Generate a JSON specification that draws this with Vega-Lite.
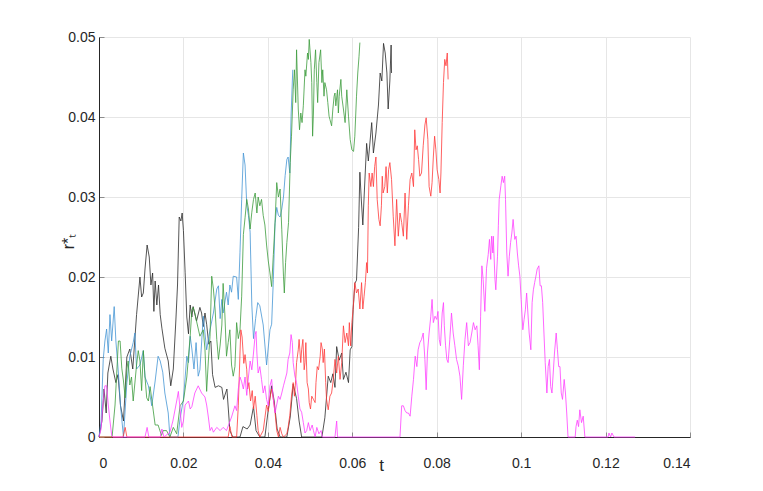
{
"$schema": "https://vega.github.io/schema/vega-lite/v6.json",
"width": 591, "height": 400,
"autosize": {"type": "none"},
"padding": {"left": 99, "top": 37, "right": 73, "bottom": 54},
"background": "white",
"config": {
  "view": {"stroke": null},
  "axis": {"domainColor": "#262626", "domainWidth": 1, "tickColor": "#8c8c8c", "tickSize": -5, "gridColor": "#e6e6e6", "gridWidth": 1,
    "labelFont": "Liberation Sans", "labelFontSize": 14, "labelColor": "#262626",
    "titleFont": "Liberation Sans", "titleFontWeight": "normal", "titleColor": "#262626"}
},
"datasets": {
"black": [{"t":0,"v":0},{"t":0.0007,"v":0.002},{"t":0.0012,"v":0.006},{"t":0.0017,"v":0.003},{"t":0.0021,"v":0.008},{"t":0.0028,"v":0.0101},{"t":0.0033,"v":0.0085},{"t":0.004,"v":0.0068},{"t":0.0045,"v":0.0078},{"t":0.0051,"v":0.0039},{"t":0.0058,"v":0.002},{"t":0.0066,"v":0.010},{"t":0.0073,"v":0.011},{"t":0.008,"v":0.0085},{"t":0.0089,"v":0.0153},{"t":0.0097,"v":0.020},{"t":0.0101,"v":0.0175},{"t":0.0105,"v":0.018},{"t":0.0109,"v":0.021},{"t":0.0114,"v":0.024},{"t":0.0119,"v":0.0225},{"t":0.0123,"v":0.019},{"t":0.0127,"v":0.0205},{"t":0.013,"v":0.0157},{"t":0.0133,"v":0.0195},{"t":0.0137,"v":0.0165},{"t":0.0141,"v":0.019},{"t":0.0145,"v":0.0153},{"t":0.0149,"v":0.0136},{"t":0.0156,"v":0.0111},{"t":0.0164,"v":0.0095},{"t":0.017,"v":0.0064},{"t":0.0176,"v":0.0085},{"t":0.0182,"v":0.0145},{"t":0.0186,"v":0.019},{"t":0.019,"v":0.0275},{"t":0.0194,"v":0.027},{"t":0.0197,"v":0.028},{"t":0.02,"v":0.0258},{"t":0.0204,"v":0.0206},{"t":0.0208,"v":0.015},{"t":0.0212,"v":0.0129},{"t":0.0216,"v":0.0165},{"t":0.022,"v":0.015},{"t":0.0223,"v":0.0163},{"t":0.0231,"v":0.0145},{"t":0.0239,"v":0.0162},{"t":0.0243,"v":0.0155},{"t":0.0247,"v":0.0138},{"t":0.0251,"v":0.0155},{"t":0.0255,"v":0.0141},{"t":0.026,"v":0.0116},{"t":0.0265,"v":0.012},{"t":0.0269,"v":0.0078},{"t":0.0275,"v":0.0062},{"t":0.0283,"v":0.0064},{"t":0.0291,"v":0.0062},{"t":0.0295,"v":0.0047},{"t":0.0303,"v":0.006},{"t":0.031,"v":0.0008},{"t":0.0317,"v":0},{"t":0.0334,"v":0},{"t":0.0341,"v":0.0013},{"t":0.0351,"v":0.001},{"t":0.0358,"v":0.0015},{"t":0.0366,"v":0.0038},{"t":0.0372,"v":0.0008},{"t":0.0381,"v":0},{"t":0.0393,"v":0},{"t":0.04,"v":0.003},{"t":0.0409,"v":0.0064},{"t":0.0415,"v":0.0045},{"t":0.0422,"v":0.001},{"t":0.0429,"v":0},{"t":0.0445,"v":0},{"t":0.0453,"v":0.0025},{"t":0.046,"v":0.0066},{"t":0.0468,"v":0.0048},{"t":0.0474,"v":0.002},{"t":0.048,"v":0},{"t":0.0528,"v":0},{"t":0.0535,"v":0.0024},{"t":0.0543,"v":0.0076},{"t":0.0549,"v":0.0068},{"t":0.0554,"v":0.0079},{"t":0.0559,"v":0.0062},{"t":0.0563,"v":0.0113},{"t":0.0569,"v":0.0096},{"t":0.0575,"v":0.0105},{"t":0.0579,"v":0.0072},{"t":0.0585,"v":0.0081},{"t":0.0591,"v":0.0068},{"t":0.0595,"v":0.0109},{"t":0.0599,"v":0.0113},{"t":0.0602,"v":0.0159},{"t":0.0606,"v":0.0192},{"t":0.061,"v":0.0196},{"t":0.0615,"v":0.0262},{"t":0.0618,"v":0.0331},{"t":0.0621,"v":0.030},{"t":0.0625,"v":0.0265},{"t":0.0628,"v":0.030},{"t":0.0634,"v":0.0367},{"t":0.0638,"v":0.0345},{"t":0.0646,"v":0.0393},{"t":0.065,"v":0.0355},{"t":0.0656,"v":0.038},{"t":0.0662,"v":0.0415},{"t":0.0666,"v":0.0455},{"t":0.067,"v":0.0445},{"t":0.0674,"v":0.0492},{"t":0.0678,"v":0.048},{"t":0.0682,"v":0.0455},{"t":0.0685,"v":0.041},{"t":0.0689,"v":0.0445},{"t":0.0692,"v":0.049},{"t":0.0693,"v":0.0455}],
"blue": [{"t":0,"v":0},{"t":0.0005,"v":0.002},{"t":0.001,"v":0.0097},{"t":0.0014,"v":0.012},{"t":0.0018,"v":0.0135},{"t":0.0022,"v":0.0105},{"t":0.0026,"v":0.0153},{"t":0.003,"v":0.012},{"t":0.0036,"v":0.0163},{"t":0.004,"v":0.012},{"t":0.0046,"v":0.008},{"t":0.0051,"v":0.0039},{"t":0.0058,"v":0},{"t":0.0066,"v":0.0068},{"t":0.0073,"v":0.0101},{"t":0.0081,"v":0.0118},{"t":0.0085,"v":0.013},{"t":0.0089,"v":0.0085},{"t":0.0097,"v":0.009},{"t":0.0105,"v":0.0108},{"t":0.0109,"v":0.0075},{"t":0.0117,"v":0.0064},{"t":0.0125,"v":0.0039},{"t":0.0133,"v":0.007},{"t":0.014,"v":0.0101},{"t":0.0145,"v":0.0095},{"t":0.0151,"v":0.0081},{"t":0.0156,"v":0.0055},{"t":0.0164,"v":0.003},{"t":0.0168,"v":0},{"t":0.0187,"v":0},{"t":0.0192,"v":0.0023},{"t":0.02,"v":0.0047},{"t":0.0208,"v":0.0101},{"t":0.0212,"v":0.0093},{"t":0.0216,"v":0.0126},{"t":0.022,"v":0.011},{"t":0.0225,"v":0.0085},{"t":0.023,"v":0.0118},{"t":0.0235,"v":0.0076},{"t":0.0239,"v":0.0084},{"t":0.0247,"v":0.0151},{"t":0.0255,"v":0.0109},{"t":0.0263,"v":0.0134},{"t":0.0271,"v":0.0155},{"t":0.0279,"v":0.0185},{"t":0.0283,"v":0.0189},{"t":0.0287,"v":0.0148},{"t":0.0291,"v":0.0172},{"t":0.0294,"v":0.0155},{"t":0.0302,"v":0.0181},{"t":0.0306,"v":0.0165},{"t":0.031,"v":0.019},{"t":0.0314,"v":0.0181},{"t":0.0318,"v":0.0201},{"t":0.0326,"v":0.02},{"t":0.033,"v":0.0172},{"t":0.0334,"v":0.0231},{"t":0.0338,"v":0.0297},{"t":0.0342,"v":0.0355},{"t":0.0346,"v":0.034},{"t":0.035,"v":0.029},{"t":0.0354,"v":0.0277},{"t":0.0358,"v":0.0256},{"t":0.0362,"v":0.0165},{"t":0.0366,"v":0.0123},{"t":0.0371,"v":0.0148},{"t":0.0376,"v":0.0168},{"t":0.0381,"v":0.0164},{"t":0.0389,"v":0.014},{"t":0.0397,"v":0.009},{"t":0.0405,"v":0.0134},{"t":0.0409,"v":0.0141},{"t":0.0413,"v":0.0197},{"t":0.0417,"v":0.0267},{"t":0.0421,"v":0.0287},{"t":0.0425,"v":0.0277},{"t":0.0429,"v":0.0275},{"t":0.0433,"v":0.0285},{"t":0.0437,"v":0.03},{"t":0.0441,"v":0.0327},{"t":0.0445,"v":0.0347},{"t":0.0448,"v":0.035},{"t":0.0452,"v":0.033},{"t":0.0455,"v":0.0401},{"t":0.0457,"v":0.043},{"t":0.0459,"v":0.0459}],
"green": [{"t":0,"v":0},{"t":0.0031,"v":0},{"t":0.0038,"v":0.004},{"t":0.0046,"v":0.012},{"t":0.005,"v":0.012},{"t":0.0054,"v":0.0086},{"t":0.0058,"v":0.007},{"t":0.0062,"v":0.0049},{"t":0.0066,"v":0.0085},{"t":0.0069,"v":0.0095},{"t":0.0073,"v":0.0065},{"t":0.0077,"v":0.0075},{"t":0.0081,"v":0.0045},{"t":0.0089,"v":0.009},{"t":0.0093,"v":0.0108},{"t":0.0097,"v":0.0095},{"t":0.0101,"v":0.0058},{"t":0.0105,"v":0.0108},{"t":0.0109,"v":0.0075},{"t":0.0113,"v":0.0049},{"t":0.0117,"v":0.0045},{"t":0.0121,"v":0.0063},{"t":0.0127,"v":0.0039},{"t":0.0133,"v":0.0015},{"t":0.014,"v":0.0015},{"t":0.0148,"v":0.0002},{"t":0.0152,"v":0.0008},{"t":0.016,"v":0.0008},{"t":0.0168,"v":0},{"t":0.0176,"v":0.0012},{"t":0.0184,"v":0.0004},{"t":0.0192,"v":0.0039},{"t":0.02,"v":0.0045},{"t":0.0208,"v":0.0075},{"t":0.0216,"v":0.0126},{"t":0.022,"v":0.0159},{"t":0.0223,"v":0.0162},{"t":0.0227,"v":0.0155},{"t":0.0231,"v":0.0145},{"t":0.0239,"v":0.0126},{"t":0.0247,"v":0.0134},{"t":0.0251,"v":0.011},{"t":0.0255,"v":0.0057},{"t":0.0259,"v":0.0095},{"t":0.0263,"v":0.0126},{"t":0.0267,"v":0.0201},{"t":0.0271,"v":0.0185},{"t":0.0275,"v":0.016},{"t":0.0279,"v":0.0122},{"t":0.0283,"v":0.0097},{"t":0.0287,"v":0.0115},{"t":0.0291,"v":0.014},{"t":0.0294,"v":0.0192},{"t":0.0298,"v":0.0155},{"t":0.0302,"v":0.0101},{"t":0.0306,"v":0.0118},{"t":0.031,"v":0.0134},{"t":0.0314,"v":0.009},{"t":0.0318,"v":0.0076},{"t":0.0322,"v":0.0088},{"t":0.0326,"v":0.0143},{"t":0.033,"v":0.0123},{"t":0.0334,"v":0.0134},{"t":0.0338,"v":0.0176},{"t":0.0342,"v":0.0253},{"t":0.0346,"v":0.0274},{"t":0.035,"v":0.0297},{"t":0.0354,"v":0.0285},{"t":0.0358,"v":0.026},{"t":0.0362,"v":0.0281},{"t":0.0366,"v":0.0297},{"t":0.037,"v":0.0305},{"t":0.0374,"v":0.028},{"t":0.0377,"v":0.03},{"t":0.0381,"v":0.0289},{"t":0.0385,"v":0.0297},{"t":0.0389,"v":0.0277},{"t":0.0393,"v":0.0265},{"t":0.0397,"v":0.024},{"t":0.0401,"v":0.022},{"t":0.0405,"v":0.0205},{"t":0.0409,"v":0.0188},{"t":0.0413,"v":0.0228},{"t":0.0417,"v":0.0268},{"t":0.0421,"v":0.0318},{"t":0.0425,"v":0.03},{"t":0.0429,"v":0.031},{"t":0.0433,"v":0.0259},{"t":0.0437,"v":0.0201},{"t":0.0439,"v":0.018},{"t":0.0442,"v":0.0218},{"t":0.0445,"v":0.0243},{"t":0.0449,"v":0.0268},{"t":0.0453,"v":0.0343},{"t":0.0456,"v":0.0376},{"t":0.046,"v":0.0434},{"t":0.0463,"v":0.0459},{"t":0.0466,"v":0.0418},{"t":0.0468,"v":0.0484},{"t":0.0472,"v":0.041},{"t":0.0475,"v":0.0384},{"t":0.0478,"v":0.0405},{"t":0.0481,"v":0.0393},{"t":0.0484,"v":0.0414},{"t":0.0488,"v":0.0459},{"t":0.049,"v":0.0451},{"t":0.0494,"v":0.048},{"t":0.0496,"v":0.0472},{"t":0.0498,"v":0.0497},{"t":0.0502,"v":0.0468},{"t":0.0504,"v":0.0443},{"t":0.0506,"v":0.0376},{"t":0.0508,"v":0.0405},{"t":0.051,"v":0.0459},{"t":0.0513,"v":0.0484},{"t":0.0516,"v":0.0443},{"t":0.0518,"v":0.0418},{"t":0.0521,"v":0.0468},{"t":0.0525,"v":0.0484},{"t":0.0528,"v":0.0443},{"t":0.053,"v":0.0459},{"t":0.0533,"v":0.0426},{"t":0.0535,"v":0.0443},{"t":0.0539,"v":0.0434},{"t":0.0542,"v":0.0418},{"t":0.0545,"v":0.0401},{"t":0.0547,"v":0.0397},{"t":0.0551,"v":0.0389},{"t":0.0554,"v":0.041},{"t":0.0557,"v":0.0426},{"t":0.0559,"v":0.043},{"t":0.0561,"v":0.0414},{"t":0.0565,"v":0.0434},{"t":0.0567,"v":0.0405},{"t":0.0569,"v":0.0426},{"t":0.0573,"v":0.0447},{"t":0.0575,"v":0.0426},{"t":0.0579,"v":0.041},{"t":0.0583,"v":0.0393},{"t":0.0587,"v":0.0434},{"t":0.0591,"v":0.0401},{"t":0.0595,"v":0.0372},{"t":0.0599,"v":0.0359},{"t":0.0603,"v":0.0357},{"t":0.0606,"v":0.0376},{"t":0.061,"v":0.0426},{"t":0.0613,"v":0.0455},{"t":0.0616,"v":0.0476},{"t":0.0618,"v":0.0493}],
"red": [{"t":0,"v":0},{"t":0.0057,"v":0},{"t":0.0062,"v":0.0012},{"t":0.0066,"v":0},{"t":0.0306,"v":0},{"t":0.031,"v":0.0013},{"t":0.0315,"v":0},{"t":0.0326,"v":0},{"t":0.033,"v":0.0039},{"t":0.0334,"v":0.0105},{"t":0.0336,"v":0.0134},{"t":0.0339,"v":0.0125},{"t":0.0343,"v":0.0092},{"t":0.0346,"v":0.0103},{"t":0.035,"v":0.0084},{"t":0.0352,"v":0.006},{"t":0.0355,"v":0.0068},{"t":0.0359,"v":0.0045},{"t":0.0363,"v":0.0058},{"t":0.0366,"v":0.0035},{"t":0.037,"v":0.0051},{"t":0.0374,"v":0.0027},{"t":0.0377,"v":0.0008},{"t":0.0381,"v":0},{"t":0.0389,"v":0.0008},{"t":0.0393,"v":0.0024},{"t":0.0397,"v":0.004},{"t":0.0401,"v":0.0032},{"t":0.0405,"v":0.0049},{"t":0.0409,"v":0.006},{"t":0.0413,"v":0.0047},{"t":0.0417,"v":0.0031},{"t":0.0421,"v":0.0008},{"t":0.0425,"v":0},{"t":0.0429,"v":0.0012},{"t":0.0433,"v":0.0004},{"t":0.0437,"v":0},{"t":0.0445,"v":0.0004},{"t":0.0448,"v":0.0012},{"t":0.0452,"v":0.0027},{"t":0.0456,"v":0.0051},{"t":0.046,"v":0.0068},{"t":0.0463,"v":0.0051},{"t":0.0466,"v":0.0072},{"t":0.0468,"v":0.0093},{"t":0.0472,"v":0.0109},{"t":0.0474,"v":0.0122},{"t":0.0478,"v":0.0093},{"t":0.048,"v":0.0109},{"t":0.0483,"v":0.0122},{"t":0.0486,"v":0.0084},{"t":0.0488,"v":0.0093},{"t":0.049,"v":0.0118},{"t":0.0493,"v":0.0068},{"t":0.0496,"v":0.006},{"t":0.0498,"v":0.0043},{"t":0.0501,"v":0.0035},{"t":0.0504,"v":0.0051},{"t":0.0508,"v":0.0047},{"t":0.0512,"v":0.0043},{"t":0.0514,"v":0.0068},{"t":0.0517,"v":0.0088},{"t":0.052,"v":0.0084},{"t":0.0524,"v":0.0101},{"t":0.0526,"v":0.0118},{"t":0.0529,"v":0.011},{"t":0.0531,"v":0.0093},{"t":0.0534,"v":0.011},{"t":0.0537,"v":0.0068},{"t":0.0539,"v":0.0047},{"t":0.0543,"v":0.0034},{"t":0.0547,"v":0.0051},{"t":0.0551,"v":0.0055},{"t":0.0555,"v":0.0072},{"t":0.0559,"v":0.0097},{"t":0.0563,"v":0.008},{"t":0.0567,"v":0.0101},{"t":0.0571,"v":0.0072},{"t":0.0575,"v":0.0093},{"t":0.0579,"v":0.0139},{"t":0.0583,"v":0.0118},{"t":0.0587,"v":0.013},{"t":0.0591,"v":0.0114},{"t":0.0593,"v":0.0143},{"t":0.0596,"v":0.0114},{"t":0.0599,"v":0.0143},{"t":0.0602,"v":0.016},{"t":0.0606,"v":0.0193},{"t":0.061,"v":0.018},{"t":0.0614,"v":0.0185},{"t":0.0618,"v":0.016},{"t":0.0622,"v":0.0193},{"t":0.0625,"v":0.016},{"t":0.0628,"v":0.0176},{"t":0.0631,"v":0.0193},{"t":0.0634,"v":0.0218},{"t":0.0636,"v":0.0205},{"t":0.0638,"v":0.0289},{"t":0.064,"v":0.033},{"t":0.0644,"v":0.0313},{"t":0.0647,"v":0.033},{"t":0.065,"v":0.0313},{"t":0.0653,"v":0.0338},{"t":0.0656,"v":0.035},{"t":0.0659,"v":0.0297},{"t":0.0663,"v":0.0272},{"t":0.0666,"v":0.0264},{"t":0.0669,"v":0.0289},{"t":0.0671,"v":0.0326},{"t":0.0673,"v":0.0305},{"t":0.0677,"v":0.0313},{"t":0.068,"v":0.0338},{"t":0.0683,"v":0.0305},{"t":0.0686,"v":0.0334},{"t":0.0689,"v":0.0343},{"t":0.0693,"v":0.0322},{"t":0.0697,"v":0.0276},{"t":0.0701,"v":0.0239},{"t":0.0705,"v":0.0297},{"t":0.0709,"v":0.0251},{"t":0.0713,"v":0.028},{"t":0.0717,"v":0.0268},{"t":0.0721,"v":0.0251},{"t":0.0725,"v":0.0305},{"t":0.0729,"v":0.0247},{"t":0.0733,"v":0.0289},{"t":0.0737,"v":0.0322},{"t":0.0741,"v":0.033},{"t":0.0745,"v":0.0313},{"t":0.0748,"v":0.0384},{"t":0.0751,"v":0.0359},{"t":0.0754,"v":0.0364},{"t":0.0757,"v":0.0347},{"t":0.076,"v":0.0326},{"t":0.0764,"v":0.033},{"t":0.0768,"v":0.0364},{"t":0.0772,"v":0.039},{"t":0.0775,"v":0.0399},{"t":0.0779,"v":0.0372},{"t":0.0782,"v":0.0313},{"t":0.0786,"v":0.0301},{"t":0.0789,"v":0.0318},{"t":0.0792,"v":0.035},{"t":0.0795,"v":0.0376},{"t":0.0798,"v":0.0359},{"t":0.0801,"v":0.0334},{"t":0.0805,"v":0.0322},{"t":0.0808,"v":0.0305},{"t":0.081,"v":0.033},{"t":0.0813,"v":0.0393},{"t":0.0816,"v":0.0443},{"t":0.0819,"v":0.0472},{"t":0.0822,"v":0.0464},{"t":0.0825,"v":0.048},{"t":0.0827,"v":0.0447}],
"magenta": [{"t":0,"v":0},{"t":0.0005,"v":0.001},{"t":0.0009,"v":0.004},{"t":0.0014,"v":0.0064},{"t":0.0018,"v":0.0064},{"t":0.0022,"v":0.004},{"t":0.0026,"v":0.002},{"t":0.003,"v":0.0002},{"t":0.0033,"v":0},{"t":0.0109,"v":0},{"t":0.0114,"v":0.0012},{"t":0.0118,"v":0},{"t":0.0145,"v":0},{"t":0.0149,"v":0.001},{"t":0.0154,"v":0},{"t":0.0168,"v":0.0006},{"t":0.0175,"v":0.002},{"t":0.0184,"v":0.0045},{"t":0.0188,"v":0.0057},{"t":0.0192,"v":0.0035},{"t":0.0196,"v":0.0012},{"t":0.02,"v":0.002},{"t":0.0204,"v":0.004},{"t":0.0212,"v":0.0045},{"t":0.0216,"v":0.0035},{"t":0.022,"v":0.0038},{"t":0.0227,"v":0.0055},{"t":0.0235,"v":0.0064},{"t":0.0243,"v":0.0055},{"t":0.0251,"v":0.005},{"t":0.0255,"v":0.004},{"t":0.0259,"v":0.0025},{"t":0.0263,"v":0.0008},{"t":0.0267,"v":0.0012},{"t":0.0271,"v":0.0006},{"t":0.0279,"v":0.0012},{"t":0.0287,"v":0.0008},{"t":0.0294,"v":0.0012},{"t":0.0302,"v":0.0008},{"t":0.0314,"v":0.0025},{"t":0.0322,"v":0.0039},{"t":0.0326,"v":0.0033},{"t":0.033,"v":0.006},{"t":0.0334,"v":0.0075},{"t":0.0338,"v":0.0069},{"t":0.0342,"v":0.006},{"t":0.0346,"v":0.0075},{"t":0.035,"v":0.0052},{"t":0.0354,"v":0.0075},{"t":0.0358,"v":0.0095},{"t":0.0362,"v":0.0084},{"t":0.0366,"v":0.0105},{"t":0.037,"v":0.0128},{"t":0.0372,"v":0.0132},{"t":0.0374,"v":0.0105},{"t":0.0377,"v":0.008},{"t":0.0381,"v":0.0088},{"t":0.0385,"v":0.0072},{"t":0.0389,"v":0.0055},{"t":0.0393,"v":0.0064},{"t":0.0397,"v":0.0047},{"t":0.0401,"v":0.0039},{"t":0.0405,"v":0.0064},{"t":0.0409,"v":0.0072},{"t":0.0413,"v":0.0047},{"t":0.0417,"v":0.003},{"t":0.0425,"v":0.0051},{"t":0.0429,"v":0.0047},{"t":0.0433,"v":0.0055},{"t":0.0437,"v":0.0064},{"t":0.0441,"v":0.0072},{"t":0.0445,"v":0.008},{"t":0.0448,"v":0.0097},{"t":0.0452,"v":0.0105},{"t":0.0455,"v":0.0128},{"t":0.0458,"v":0.0118},{"t":0.046,"v":0.0093},{"t":0.0464,"v":0.0076},{"t":0.0468,"v":0.0068},{"t":0.0472,"v":0.0051},{"t":0.0476,"v":0.0035},{"t":0.048,"v":0.0031},{"t":0.0484,"v":0.0018},{"t":0.0488,"v":0.0005},{"t":0.0492,"v":0.0008},{"t":0.0496,"v":0.0018},{"t":0.05,"v":0.0008},{"t":0.0505,"v":0.0015},{"t":0.0508,"v":0.0008},{"t":0.0512,"v":0},{"t":0.0516,"v":0.0012},{"t":0.0521,"v":0.0004},{"t":0.0526,"v":0.0008},{"t":0.0529,"v":0},{"t":0.0559,"v":0},{"t":0.0563,"v":0.002},{"t":0.0565,"v":0},{"t":0.0713,"v":0},{"t":0.0717,"v":0.0039},{"t":0.0721,"v":0.0039},{"t":0.0725,"v":0.0033},{"t":0.0729,"v":0.003},{"t":0.0733,"v":0.003},{"t":0.0737,"v":0.0026},{"t":0.0741,"v":0.0051},{"t":0.0745,"v":0.0072},{"t":0.0749,"v":0.0101},{"t":0.0753,"v":0.0088},{"t":0.0756,"v":0.0109},{"t":0.076,"v":0.0118},{"t":0.0764,"v":0.0122},{"t":0.0768,"v":0.013},{"t":0.0772,"v":0.0097},{"t":0.0775,"v":0.0059},{"t":0.0778,"v":0.0105},{"t":0.0782,"v":0.013},{"t":0.0786,"v":0.0151},{"t":0.0789,"v":0.0172},{"t":0.0792,"v":0.0143},{"t":0.0796,"v":0.0151},{"t":0.08,"v":0.0147},{"t":0.0803,"v":0.0157},{"t":0.0806,"v":0.0122},{"t":0.0809,"v":0.0114},{"t":0.0813,"v":0.0155},{"t":0.0816,"v":0.0168},{"t":0.0818,"v":0.0139},{"t":0.0821,"v":0.0114},{"t":0.0824,"v":0.0097},{"t":0.0827,"v":0.0093},{"t":0.0831,"v":0.0122},{"t":0.0835,"v":0.0155},{"t":0.0839,"v":0.013},{"t":0.0843,"v":0.0114},{"t":0.0847,"v":0.0097},{"t":0.0851,"v":0.0089},{"t":0.0855,"v":0.0076},{"t":0.0859,"v":0.0047},{"t":0.0863,"v":0.0089},{"t":0.0867,"v":0.0122},{"t":0.0871,"v":0.0143},{"t":0.0875,"v":0.0114},{"t":0.0879,"v":0.0118},{"t":0.0883,"v":0.013},{"t":0.0887,"v":0.0143},{"t":0.0891,"v":0.0134},{"t":0.0895,"v":0.0139},{"t":0.0898,"v":0.0114},{"t":0.0901,"v":0.0084},{"t":0.0904,"v":0.0151},{"t":0.0907,"v":0.0214},{"t":0.091,"v":0.0197},{"t":0.0914,"v":0.0157},{"t":0.0918,"v":0.0211},{"t":0.0922,"v":0.0228},{"t":0.0925,"v":0.0247},{"t":0.0928,"v":0.0222},{"t":0.093,"v":0.0251},{"t":0.0933,"v":0.023},{"t":0.0934,"v":0.0251},{"t":0.0938,"v":0.0197},{"t":0.094,"v":0.0184},{"t":0.0944,"v":0.0226},{"t":0.0946,"v":0.0264},{"t":0.0948,"v":0.0297},{"t":0.0952,"v":0.0314},{"t":0.0955,"v":0.0326},{"t":0.0958,"v":0.0318},{"t":0.0961,"v":0.0326},{"t":0.0963,"v":0.0297},{"t":0.0966,"v":0.023},{"t":0.0969,"v":0.0201},{"t":0.0972,"v":0.0226},{"t":0.0975,"v":0.0243},{"t":0.0978,"v":0.0255},{"t":0.0981,"v":0.0272},{"t":0.0985,"v":0.0247},{"t":0.0988,"v":0.0251},{"t":0.0991,"v":0.023},{"t":0.0994,"v":0.0214},{"t":0.0997,"v":0.0201},{"t":0.1,"v":0.0172},{"t":0.1004,"v":0.0134},{"t":0.1007,"v":0.0147},{"t":0.101,"v":0.0159},{"t":0.1013,"v":0.018},{"t":0.1016,"v":0.0155},{"t":0.1019,"v":0.013},{"t":0.1023,"v":0.0109},{"t":0.1026,"v":0.0168},{"t":0.1029,"v":0.0184},{"t":0.1032,"v":0.0193},{"t":0.1035,"v":0.0201},{"t":0.1038,"v":0.021},{"t":0.1042,"v":0.0214},{"t":0.1045,"v":0.0189},{"t":0.1048,"v":0.0189},{"t":0.1051,"v":0.0168},{"t":0.1054,"v":0.013},{"t":0.1057,"v":0.0093},{"t":0.1061,"v":0.0055},{"t":0.1064,"v":0.0088},{"t":0.1067,"v":0.0097},{"t":0.107,"v":0.0063},{"t":0.1073,"v":0.0055},{"t":0.1076,"v":0.008},{"t":0.1079,"v":0.0105},{"t":0.1083,"v":0.013},{"t":0.1086,"v":0.0109},{"t":0.1089,"v":0.0088},{"t":0.1092,"v":0.0088},{"t":0.1095,"v":0.0055},{"t":0.1098,"v":0.0047},{"t":0.1102,"v":0.0072},{"t":0.1105,"v":0.0055},{"t":0.1108,"v":0.003},{"t":0.1111,"v":0},{"t":0.1128,"v":0},{"t":0.113,"v":0.0013},{"t":0.1133,"v":0.0021},{"t":0.1136,"v":0.0013},{"t":0.1139,"v":0.0034},{"t":0.1143,"v":0.0018},{"t":0.1147,"v":0.0026},{"t":0.1151,"v":0},{"t":0.1206,"v":0},{"t":0.1208,"v":0.0005},{"t":0.1212,"v":0},{"t":0.1215,"v":0.0005},{"t":0.122,"v":0},{"t":0.127,"v":0}]
},
"encoding": {
  "x": {"field": "t", "type": "quantitative", "scale": {"domain": [0, 0.14], "nice": false, "zero": true},
    "axis": {"values": [0, 0.02, 0.04, 0.06, 0.08, 0.1, 0.12, 0.14], "format": "~g", "title": "t", "labelPadding": 24,
      "titleFontSize": 17, "titleX": 282, "titleY": 28, "titleAlign": "center", "titleBaseline": "middle"}},
  "y": {"field": "v", "type": "quantitative", "scale": {"domain": [0, 0.05], "nice": false},
    "axis": {"values": [0, 0.01, 0.02, 0.03, 0.04, 0.05], "format": "~g", "title": "r*ₜ", "labelPadding": 9,
      "titleFontSize": 16, "titleX": -31, "titleY": 204, "titleAngle": -90, "titleAlign": "center", "titleBaseline": "middle"}}
},
"layer": [
  {"data": {"name": "black"}, "mark": {"type": "line", "color": "#2a2a2a", "strokeWidth": 0.8}},
  {"data": {"name": "blue"}, "mark": {"type": "line", "color": "#4596d4", "strokeWidth": 0.8}},
  {"data": {"name": "green"}, "mark": {"type": "line", "color": "#3c9c3c", "strokeWidth": 0.8}},
  {"data": {"name": "red"}, "mark": {"type": "line", "color": "#ff3a3a", "strokeWidth": 0.8}},
  {"data": {"name": "magenta"}, "mark": {"type": "line", "color": "#ff40ff", "strokeWidth": 0.8}}
]
}
